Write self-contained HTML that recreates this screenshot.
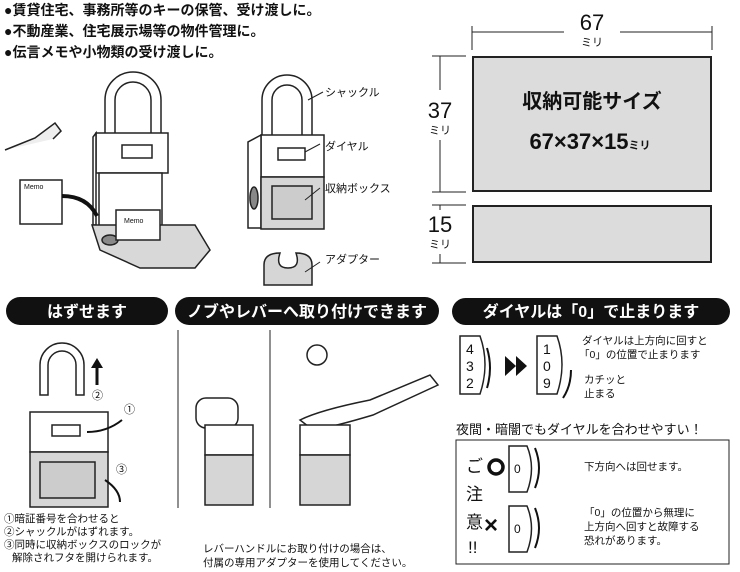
<!DOCTYPE html>
<html><head><meta charset="utf-8"><style>
body{margin:0;background:#fff;width:740px;height:572px;overflow:hidden;font-family:"Liberation Sans","Noto Sans CJK JP",sans-serif;}
svg{display:block}
text{font-family:"Liberation Sans","Noto Sans CJK JP",sans-serif;fill:#111}
</style></head><body>
<svg width="740" height="572" viewBox="0 0 740 572" xmlns="http://www.w3.org/2000/svg">
<g font-size="14" font-weight="bold">
<text x="4" y="15">●賃貸住宅、事務所等のキーの保管、受け渡しに。</text>
<text x="4" y="36">●不動産業、住宅展示場等の物件管理に。</text>
<text x="4" y="57">●伝言メモや小物類の受け渡しに。</text>
</g>
<g stroke="#222" fill="none" stroke-width="1">
<line x1="472" y1="32" x2="712" y2="32"/><line x1="472" y1="26" x2="472" y2="50"/><line x1="712" y1="26" x2="712" y2="50"/>
<line x1="440" y1="56" x2="440" y2="192"/><line x1="432" y1="56" x2="466" y2="56"/><line x1="432" y1="192" x2="466" y2="192"/>
<line x1="440" y1="205" x2="440" y2="263"/><line x1="432" y1="205" x2="466" y2="205"/><line x1="432" y1="263" x2="466" y2="263"/>
</g>
<rect x="564" y="14" width="56" height="40" fill="#fff"/>
<text x="592" y="30" font-size="22" text-anchor="middle">67</text>
<text x="592" y="46" font-size="11" text-anchor="middle">ミリ</text>
<rect x="425" y="90" width="30" height="50" fill="#fff"/>
<text x="440" y="118" font-size="22" text-anchor="middle">37</text>
<text x="440" y="134" font-size="11" text-anchor="middle">ミリ</text>
<rect x="425" y="210" width="30" height="44" fill="#fff"/>
<text x="440" y="232" font-size="22" text-anchor="middle">15</text>
<text x="440" y="248" font-size="11" text-anchor="middle">ミリ</text>
<rect x="473" y="57" width="238" height="134" fill="#dcdcdc" stroke="#222" stroke-width="2"/>
<rect x="473" y="206" width="238" height="56" fill="#dcdcdc" stroke="#222" stroke-width="2"/>
<text x="592" y="108" font-size="20" font-weight="bold" text-anchor="middle">収納可能サイズ</text>
<text x="590" y="149" font-size="22" font-weight="bold" text-anchor="middle">67×37×15<tspan font-size="11">ミリ</tspan></text>

<g stroke="#222" stroke-width="1.5" fill="#fff">
<path d="M105 135 V100 a28 28 0 0 1 56 0 V135 h-10 V100 a18 18 0 0 0 -36 0 V135z"/>
<rect x="96" y="133" width="72" height="40" />
<polygon points="96,133 93,137 93,225 96,225"/>
<rect x="99" y="173" width="63" height="55"/>
<polygon points="92,225 195,225 210,250 195,268 140,268 100,250" fill="#d8d8d8"/>
<ellipse cx="110" cy="240" rx="8" ry="5" fill="#888"/>
<rect x="116" y="210" width="44" height="30"/>
<rect x="20" y="180" width="42" height="44"/>
<rect x="122" y="145" width="30" height="13"/>
</g>
<text x="124" y="223" font-size="7">Memo</text>
<text x="24" y="189" font-size="7">Memo</text>
<path d="M62 196 q25 0 35 20" stroke="#111" stroke-width="4" fill="none"/>
<path d="M5 150 l30 -12 l20 -15 l6 8 l-8 8" stroke="#222" stroke-width="1.5" fill="#eee"/>

<g stroke="#222" stroke-width="1.5" fill="#fff">
<path d="M262 140 V100 a25 25 0 0 1 50 0 V140 h-10 V100 a15 15 0 0 0 -30 0 V140z"/>
<rect x="261" y="135" width="63" height="42"/>
<polygon points="261,135 248,142 248,228 261,228"/>
<rect x="261" y="177" width="63" height="52" fill="#d6d6d6"/>
<rect x="272" y="186" width="40" height="33" fill="#ccc"/>
<ellipse cx="254" cy="198" rx="4" ry="11" fill="#888"/>
<rect x="278" y="148" width="27" height="12"/>
<path d="M264 285 V265 q0 -12 16 -12 q-5 15 8 15 q13 0 8 -15 q16 0 16 12 V285z" fill="#d6d6d6"/>
</g>
<g stroke="#222" fill="none"><path d="M308 100 l15 -8"/><path d="M305 152 l15 -8"/><path d="M305 200 l15 -12"/><path d="M305 272 l15 -10"/></g>
<g font-size="11"><text x="325" y="96">シャックル</text><text x="325" y="150">ダイヤル</text><text x="325" y="192">収納ボックス</text><text x="325" y="263">アダプター</text></g>

<rect x="6" y="297" width="162" height="28" rx="14" fill="#111"/>
<rect x="175" y="297" width="264" height="28" rx="14" fill="#111"/>
<rect x="452" y="298" width="278" height="27" rx="13.5" fill="#111"/>
<g font-size="16" font-weight="bold" text-anchor="middle"><text x="87" y="317" style="fill:#fff">はずせます</text>
<text x="307" y="317" style="fill:#fff">ノブやレバーへ取り付けできます</text>
<text x="591" y="317" style="fill:#fff">ダイヤルは「0」で止まります</text></g>

<g stroke="#222" stroke-width="1.5" fill="#fff">
<path d="M40 395 V365 a22 22 0 0 1 44 0 V395 h-8 V365 a14 14 0 0 0 -28 0 V395z"/>
<rect x="30" y="412" width="78" height="40"/>
<rect x="30" y="452" width="78" height="55" fill="#d6d6d6"/>
<rect x="40" y="462" width="55" height="36" fill="#ccc"/>
<rect x="52" y="425" width="28" height="11"/>
</g>
<path d="M97 385 V365" stroke="#111" stroke-width="3"/><polygon points="91,368 97,358 103,368" fill="#111"/>
<text x="92" y="399" font-size="11">②</text>
<text x="124" y="413" font-size="11">①</text><path d="M122 420 q-15 12 -35 12" stroke="#111" stroke-width="2" fill="none"/>
<text x="116" y="473" font-size="11">③</text><path d="M105 480 q15 10 15 22" stroke="#111" stroke-width="2" fill="none"/>
<g font-size="10.5"><text x="4" y="522">①暗証番号を合わせると</text><text x="4" y="535">②シャックルがはずれます。</text><text x="4" y="548">③同時に収納ボックスのロックが</text><text x="12" y="561">解除されフタを開けられます。</text></g>

<g stroke="#222" stroke-width="1" fill="none"><line x1="178" y1="330" x2="178" y2="508"/><line x1="270" y1="330" x2="270" y2="508"/></g>
<g stroke="#222" stroke-width="1.5" fill="#fff">
<rect x="196" y="398" width="42" height="30" rx="10"/>
<rect x="205" y="425" width="48" height="30"/><rect x="205" y="455" width="48" height="50" fill="#d6d6d6"/>
<circle cx="317" cy="355" r="10"/>
<path d="M300 420 q20 -10 70 -20 l60 -25 l8 10 l-65 30 q-40 12 -60 15z"/>
<rect x="300" y="425" width="50" height="30"/><rect x="300" y="455" width="50" height="50" fill="#d6d6d6"/>
</g>
<g font-size="10.5"><text x="203" y="552">レバーハンドルにお取り付けの場合は、</text><text x="203" y="566">付属の専用アダプターを使用してください。</text></g>

<g stroke="#222" stroke-width="1.5" fill="#fff">
<path d="M460 336 h20 q10 28 0 58 h-20 z"/>
<path d="M537 336 h20 q10 28 0 58 h-20 z"/>
<path d="M509 446 h18 q9 22 0 46 h-18z"/>
<path d="M509 506 h18 q9 22 0 46 h-18z"/>
</g>
<polygon points="505,356 516,366 505,376" fill="#111"/><polygon points="516,356 527,366 516,376" fill="#111"/>
<g font-size="14"><text x="466" y="354">4</text><text x="466" y="371">3</text><text x="466" y="388">2</text>
<text x="543" y="354">1</text><text x="543" y="371">0</text><text x="543" y="388">9</text></g>
<g font-size="12"><text x="514" y="473">0</text><text x="514" y="533">0</text></g>
<g stroke="#111" stroke-width="2" fill="none"><path d="M487 388 q6 -20 0 -40"/><path d="M563 398 q8 -12 8 -28"/><path d="M535 448 q8 20 0 40"/><path d="M535 548 q8 -20 0 -40"/></g>
<g font-size="10.5"><text x="582" y="344">ダイヤルは上方向に回すと</text><text x="579" y="358">「0」の位置で止まります</text>
<text x="584" y="383">カチッと</text><text x="584" y="397">止まる</text>
<text x="584" y="470">下方向へは回せます。</text>
<text x="584" y="516">「0」の位置から無理に</text><text x="584" y="530">上方向へ回すと故障する</text><text x="584" y="544">恐れがあります。</text></g>
<text x="456" y="434" font-size="13">夜間・暗闇でもダイヤルを合わせやすい！</text>
<rect x="456" y="440" width="273" height="124" fill="none" stroke="#222" stroke-width="1"/>
<g font-size="17"><text x="466" y="472">ご</text><text x="466" y="500">注</text><text x="466" y="528">意</text><text x="468" y="553">!!</text></g>
<circle cx="496" cy="467" r="7" fill="none" stroke="#111" stroke-width="3.5"/>
<text x="484" y="533" font-size="24" font-weight="bold">×</text>
</svg>
</body></html>
